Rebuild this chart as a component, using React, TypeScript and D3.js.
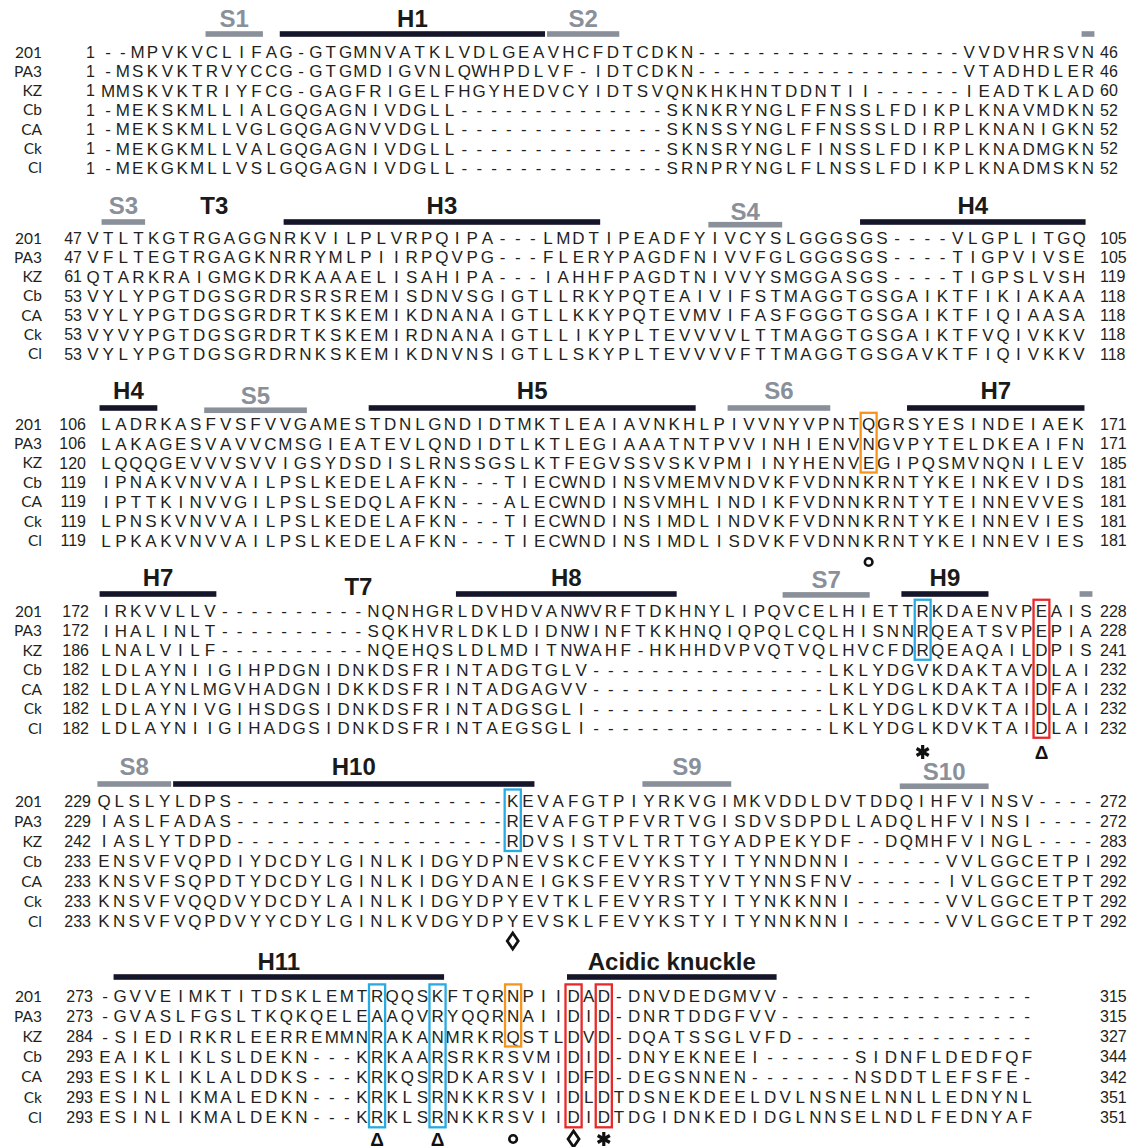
import React from "react";
import * as d3 from "d3";

const seqNames = ["201", "PA3", "KZ", "Cb", "CA", "Ck", "Cl"];

// ---------- Block 1 ----------
const block1Seqs = [
  "--MPVKVCLIFAG-GTGMNVATKLVDLGEAVHCFDTCDKN------------------VVDVHRSVN",
  "-MSKVKTRVYCCG-GTGMDIGVNLQWHPDLVF-IDTCDKN------------------VTADHDLER",
  "MMSKVKTRIYFCG-GAGFRIGELFHGYHEDVCYIDTSVQNKHKHNTDDNTII------IEADTKLAD",
  "-MEKSKMLLIALGQGAGNIVDGLL--------------SKNKRYNGLFFNSSLFDIKPLKNAVMDKN",
  "-MEKSKMLLVGLGQGAGNVVDGLL--------------SKNSSYNGLFFNSSSLDIRPLKNANIGKN",
  "-MEKGKMLLVALGQGAGNIVDGLL--------------SKNSRYNGLFINSSLFDIKPLKNADMGKN",
  "-MEKGKMLLVSLGQGAGNIVDGLL--------------SRNPRYNGLFLNSSLFDIKPLKNADMSKN",
];
const block1Start = [1, 1, 1, 1, 1, 1, 1];
const block1End = [46, 46, 60, 52, 52, 52, 52];
const block1SS = [
  { label: "S1", kind: "strand", from: 7, to: 10 },
  { label: "H1", kind: "helix", from: 12, to: 29 },
  { label: "S2", kind: "strand", from: 30, to: 34 },
  { label: "", kind: "strand", from: 66, to: 66 },
];
const block1Boxes: any[] = [];
const block1Marks: any[] = [];

// ---------- Block 2 ----------
const block2Seqs = [
  "VTLTKGTRGAGGNRKVILPLVRPQIPA---LMDTIPEADFYIVCYSLGGGSGS----VLGPLITGQ",
  "VFLTEGTRGAGKNRRYMLPIIRPQVPG---FLERYPAGDFNIVVFGLGGGSGS----TIGPVIVSE",
  "QTARKRAIGMGKDRKAAAELISAHIPA---IAHHFPAGDTNIVVYSMGGASGS----TIGPSLVSH",
  "VYLYPGTDGSGRDRSRSREMISDNVSGIGTLLRKYPQTEAIVIFSTMAGGTGSGAIKTFIKIAKAA",
  "VYLYPGTDGSGRDRTKSKEMIKDNANAIGTLLKKYPQTEVMVIFASFGGGTGSGAIKTFIQIAASA",
  "VYVYPGTDGSGRDRTKSKEMIRDNANAIGTLLIKYPLTEVVVVLTTMAGGTGSGAIKTFVQIVKKV",
  "VYLYPGTDGSGRDRNKSKEMIKDNVNSIGTLLSKYPLTEVVVVFTTMAGGTGSGAVKTFIQIVKKV",
];
const block2Start = [47, 47, 61, 53, 53, 53, 53];
const block2End = [105, 105, 119, 118, 118, 118, 118];
const block2SS = [
  { label: "S3", kind: "strand", from: 1, to: 3 },
  { label: "T3", kind: "turn", from: 8, to: 8 },
  { label: "H3", kind: "helix", from: 13, to: 33 },
  { label: "S4", kind: "strand", from: 41, to: 45 },
  { label: "H4", kind: "helix", from: 51, to: 65 },
];
const block2Boxes: any[] = [];
const block2Marks: any[] = [];

// ---------- Block 3 ----------
const block3Seqs = [
  "LADRKASFVSFVVGAMESTDNLGNDIDTMKTLEAIAVNKHLPIVVNYVPNTQGRSYESINDEIAEK",
  "LAKAGESVAVVCMSGIEATEVLQNDIDTLKTLEGIAAATNTPVVINHIENVNGVPYTELDKEAIFN",
  "LQQQGEVVVSVVIGSYDSDISLRNSSGSLKTFEGVSSVSKVPMIINYHENVEGIPQSMVNQNILEV",
  "IPNAKVNVVAILPSLKEDELAFKN---TIECWNDINSVMEMVNDVKFVDNNKRNTYKEINKEVIDS",
  "IPTTKINVVGILPSLSEDQLAFKN---ALECWNDINSVMHLINDIKFVDNNKRNTYTEINNEVVES",
  "LPNSKVNVVAILPSLKEDELAFKN---TIECWNDINSIMDLINDVKFVDNNKRNTYKEINNEVIES",
  "LPKAKVNVVAILPSLKEDELAFKN---TIECWNDINSIMDLISDVKFVDNNKRNTYKEINNEVIES",
];
const block3Start = [106, 106, 120, 119, 119, 119, 119];
const block3End = [171, 171, 185, 181, 181, 181, 181];
const block3SS = [
  { label: "H4", kind: "helix", from: 0, to: 3 },
  { label: "S5", kind: "strand", from: 7, to: 13 },
  { label: "H5", kind: "helix", from: 18, to: 39 },
  { label: "S6", kind: "strand", from: 42, to: 48 },
  { label: "H7", kind: "helix", from: 54, to: 65 },
];
const block3Boxes = [{ col: 51, from: 0, to: 2, kind: "polar" }];
const block3Marks = [{ col: 51, symbol: "o" }];

// ---------- Block 4 ----------
const block4Seqs = [
  "IRKVVLLV----------NQNHGRLDVHDVANWVRFTDKHNYLIPQVCELHIETTRKDAENVPEAIS",
  "IHALINLT----------SQKHVRLDKLDIDNWINFTKKHNQIQPQLCQLHISNNRQEATSVPEPIA",
  "LNALVILF----------NQEHQSLDLMDITNWAHF-HKHHDVPVQTVQLHVCFDRQEAQAILDPIS",
  "LDLAYNIIGIHPDGNIDNKDSFRINTADGTGLV----------------LKLYDGVKDAKTAVDLAI",
  "LDLAYNLMGVHADGNIDKKDSFRINTADGAGVV----------------LKLYDGLKDAKTAIDFAI",
  "LDLAYNIVGIHSDGSIDNKDSFRINTADGSGLI----------------LKLYDGLKDVKTAIDLAI",
  "LDLAYNIIGIHADGSIDNKDSFRINTAEGSGLI----------------LKLYDGLKDVKTAIDLAI",
];
const block4Start = [172, 172, 186, 182, 182, 182, 182];
const block4End = [228, 228, 241, 232, 232, 232, 232];
const block4SS = [
  { label: "H7", kind: "helix", from: 0, to: 7 },
  { label: "T7", kind: "turn", from: 17, to: 17 },
  { label: "H8", kind: "helix", from: 24, to: 38 },
  { label: "S7", kind: "strand", from: 46, to: 51 },
  { label: "H9", kind: "helix", from: 54, to: 59 },
  { label: "", kind: "strand", from: 66, to: 66 },
];
const block4Boxes = [
  { col: 55, from: 0, to: 2, kind: "basic" },
  { col: 63, from: 0, to: 6, kind: "acidic" },
];
const block4Marks = [
  { col: 55, symbol: "*" },
  { col: 63, symbol: "Δ" },
];

// ---------- Block 5 ----------
const block5Seqs = [
  "QLSLYLDPS------------------KEVAFGTPIYRKVGIMKVDDLDVTDDQIHFVINSV----",
  "IASLFADAS------------------REVAFGTPFVRTVGISDVSDPDLLADQLHFVINSI----",
  "IASLYTDPD------------------RDVSISTVLTRTTGYADPEKYDF--DQMHFVINGL----",
  "ENSVFVQPDIYDCDYLGINLKIDGYDPNEVSKCFEVYKSTYITYNNDNNI------VVLGGCETPI",
  "KNSVFSQPDTYDCDYLGINLKIDGYDANEIGKSFEVYRSTYVTYNNSFNV------IVLGGCETPT",
  "KNSVFVQQDVYDCDYLAINLKIDGYDPYEVTKLFEVYRSTYITYNKKNNI------VVLGGCETPT",
  "KNSVFVQPDVYYCDYLGINLKVDGYDPYEVSKLFEVYKSTYITYNNKNNI------VVLGGCETPT",
];
const block5Start = [229, 229, 242, 233, 233, 233, 233];
const block5End = [272, 272, 283, 292, 292, 292, 292];
const block5SS = [
  { label: "S8", kind: "strand", from: 0, to: 4 },
  { label: "H10", kind: "helix", from: 5, to: 28 },
  { label: "S9", kind: "strand", from: 36, to: 41 },
  { label: "S10", kind: "strand", from: 53, to: 58 },
];
const block5Boxes = [{ col: 27, from: 0, to: 2, kind: "basic" }];
const block5Marks = [{ col: 27, symbol: "◊" }];

// ---------- Block 6 ----------
const block6Seqs = [
  "-GVVEIMKTITDSKLEMTRQQSKFTQRNPIIDAD-DNVDEDGMVV-----------------",
  "-GVASLFGSLTKQKQELEAAQVRYQQRNAIIDID-DNRTDDGFVV-----------------",
  "-SIEDIRKRLEERREMMNRAKANMRKRQSTLDVD-DQATSSGLVFD----------------",
  "EAIKLIKLSLDEKN---KRKAARSRKRSVMIDID-DNYEKNEEI------SIDNFLDEDFQF",
  "ESIKLIKLALDDKS---KRKQSRDKARSVIIDFD-DEGSNNEN-------NSDDTLEFSFE-",
  "ESINLIKMALEDKN---KRKLSRNKKRSVIIDLDTDSNEKDEELDVLNSNELNNLLEDNYNL",
  "ESINLIKMALDEKN---KRKLSRNKKRSVIIDIDTDGIDNKEDIDGLNNSELNDLFEDNYAF",
];
const block6Start = [273, 273, 284, 293, 293, 293, 293];
const block6End = [315, 315, 327, 344, 342, 351, 351];
const block6SS = [
  { label: "H11", kind: "helix", from: 1, to: 22 },
  { label: "Acidic knuckle", kind: "helix", from: 31, to: 44 },
];
const block6Boxes = [
  { col: 18, from: 0, to: 6, kind: "basic" },
  { col: 22, from: 0, to: 6, kind: "basic" },
  { col: 27, from: 0, to: 2, kind: "polar" },
  { col: 31, from: 0, to: 6, kind: "acidic" },
  { col: 33, from: 0, to: 6, kind: "acidic" },
];
const block6Marks = [
  { col: 18, symbol: "Δ" },
  { col: 22, symbol: "Δ" },
  { col: 27, symbol: "o" },
  { col: 31, symbol: "◊" },
  { col: 33, symbol: "*" },
];

const blocks = [
  { seqs: block1Seqs, starts: block1Start, ends: block1End, ss: block1SS, boxes: block1Boxes, marks: block1Marks },
  { seqs: block2Seqs, starts: block2Start, ends: block2End, ss: block2SS, boxes: block2Boxes, marks: block2Marks },
  { seqs: block3Seqs, starts: block3Start, ends: block3End, ss: block3SS, boxes: block3Boxes, marks: block3Marks },
  { seqs: block4Seqs, starts: block4Start, ends: block4End, ss: block4SS, boxes: block4Boxes, marks: block4Marks },
  { seqs: block5Seqs, starts: block5Start, ends: block5End, ss: block5SS, boxes: block5Boxes, marks: block5Marks },
  { seqs: block6Seqs, starts: block6Start, ends: block6End, ss: block6SS, boxes: block6Boxes, marks: block6Marks },
];

// ---------- layout (pixels) ----------
const layouts = [
  { x0: 108, x1: 1088, row0: 52, dy: 19.3, labelY: 18, barY: 34, numRight: 95, markY: 0 },
  { x0: 93, x1: 1079, row0: 238, dy: 19.3, labelY: 205, barY: 222, numRight: 82, markY: 0 },
  { x0: 106, x1: 1078, row0: 424, dy: 19.4, labelY: 390, barY: 408, numRight: 86, markY: 562 },
  { x0: 106, x1: 1086, row0: 611, dy: 19.5, labelY: 577, barY: 594, numRight: 89, markY: 752 },
  { x0: 104, x1: 1088, row0: 801, dy: 20, labelY: 766, barY: 784, numRight: 91, markY: 941 },
  { x0: 105, x1: 1027, row0: 996, dy: 20.2, labelY: 961, barY: 977, numRight: 93, markY: 1139 },
];
const lowerStrand: Record<string, number> = { S4: 6, S5: 5, S10: 5, S7: 2 };
const turnDrop: Record<string, number> = { T3: 0, T7: 9 };

const FONT = "'Liberation Sans', Arial, Helvetica, sans-serif";
const NAME_FONT = "Lato, 'Open Sans', sans-serif";
const TEXT = "#231f20";
const HELIX = "#16162b";
const STRAND = "#8a9099";
const BOX_COLORS: Record<string, string> = { basic: "#29abe2", acidic: "#e8282b", polar: "#f7941d" };
const NUM_RIGHT_X = 1100;
const LABEL_SIZE = 24;

function Marker({ symbol, cx, cy }: { symbol: string; cx: number; cy: number }) {
  if (symbol === "◊") {
    return (
      <path d={`M${cx},${cy - 8} L${cx + 5.5},${cy} L${cx},${cy + 8} L${cx - 5.5},${cy} Z`} fill="none"
        stroke="#111" strokeWidth={2.8} strokeLinejoin="miter" />
    );
  }
  if (symbol === "*") {
    const r = 7;
    const angles = [90, 30, 150];
    return (
      <g stroke="#111" strokeWidth={3.2} strokeLinecap="butt">
        {angles.map((a) => {
          const rad = (a * Math.PI) / 180;
          return (
            <line key={a} x1={cx - r * Math.cos(rad)} y1={cy - r * Math.sin(rad)} x2={cx + r * Math.cos(rad)}
              y2={cy + r * Math.sin(rad)} />
          );
        })}
      </g>
    );
  }
  if (symbol === "o") {
    return <circle cx={cx} cy={cy} r={3.8} fill="none" stroke="#111" strokeWidth={2.6} />;
  }
  return (
    <text x={cx} y={cy + 7} textAnchor="middle" fontWeight="bold" fontSize={19} fill="#111">
      {symbol}
    </text>
  );
}

function Block({ data, layout }: { data: any; layout: any }) {
  const ncols = data.seqs[0].length;
  const x = d3.scaleLinear().domain([0, ncols - 1]).range([layout.x0, layout.x1]);
  const w = (layout.x1 - layout.x0) / (ncols - 1);
  const y = d3.scaleLinear().domain([0, 6]).range([layout.row0, layout.row0 + 6 * layout.dy]);
  const dy = layout.dy;

  return (
    <g>
      {data.ss.map((s: any, i: number) => {
        const left = x(s.from) - w / 2 + 1;
        const right = x(s.to) + w / 2 - 1;
        const cx = (left + right) / 2;
        const extra = s.kind === "strand" ? lowerStrand[s.label] || 0 : 0;
        if (s.kind === "turn") {
          return (
            <text key={i} x={x(s.from)} y={layout.labelY + (turnDrop[s.label] || 0)} dy="0.36em" textAnchor="middle"
              fontWeight="bold" fontSize={LABEL_SIZE} fill="#1a1a1a">{s.label}</text>
          );
        }
        return (
          <g key={i}>
            <rect x={left} y={layout.barY - 2.8 + extra * 0.45} width={right - left} height={5.6}
              fill={s.kind === "helix" ? HELIX : STRAND} />
            {s.label && (
              <text x={cx} y={layout.labelY + extra} dy="0.36em" textAnchor="middle" fontWeight="bold"
                fontSize={LABEL_SIZE} fill={s.kind === "helix" ? "#1a1a1a" : STRAND}>{s.label}</text>
            )}
          </g>
        );
      })}
      {data.seqs.map((seq: string, r: number) => (
        <g key={r}>
          <text x={42} y={y(r)} dy="0.36em" textAnchor="end" fontFamily={NAME_FONT} fontSize={15.5} fill={TEXT}>
            {seqNames[r]}
          </text>
          <text x={layout.numRight} y={y(r)} dy="0.36em" textAnchor="end" fontSize={16} fill={TEXT}>
            {data.starts[r]}
          </text>
          {seq.split("").map((ch, c) => (
            <text key={c} x={x(c)} y={y(r)} dy="0.36em" textAnchor="middle" fontSize={17} fill={TEXT}>{ch}</text>
          ))}
          <text x={NUM_RIGHT_X} y={y(r)} dy="0.36em" textAnchor="start" fontSize={16} fill={TEXT}>
            {data.ends[r]}
          </text>
        </g>
      ))}
      {data.boxes.map((b: any, i: number) => (
        <rect key={i} x={x(b.col) - w / 2 - 0.5} y={y(b.from) - dy / 2 - 1.5} width={w + 1}
          height={y(b.to) - y(b.from) + dy + 1.5} fill="none" stroke={BOX_COLORS[b.kind]} strokeWidth={2.3} />
      ))}
      {data.marks.map((m: any, i: number) => (
        <Marker key={i} symbol={m.symbol} cx={x(m.col)} cy={layout.markY} />
      ))}
    </g>
  );
}

export default function App() {
  const width = 1136;
  const height = 1147;
  return (
    <svg width={width} height={height} style={{ position: "absolute", left: 0, top: 0 }} fontFamily={FONT}>
      <rect width={width} height={height} fill="#fff" />
      {blocks.map((b, i) => (
        <Block key={i} data={b} layout={layouts[i]} />
      ))}
    </svg>
  );
}
